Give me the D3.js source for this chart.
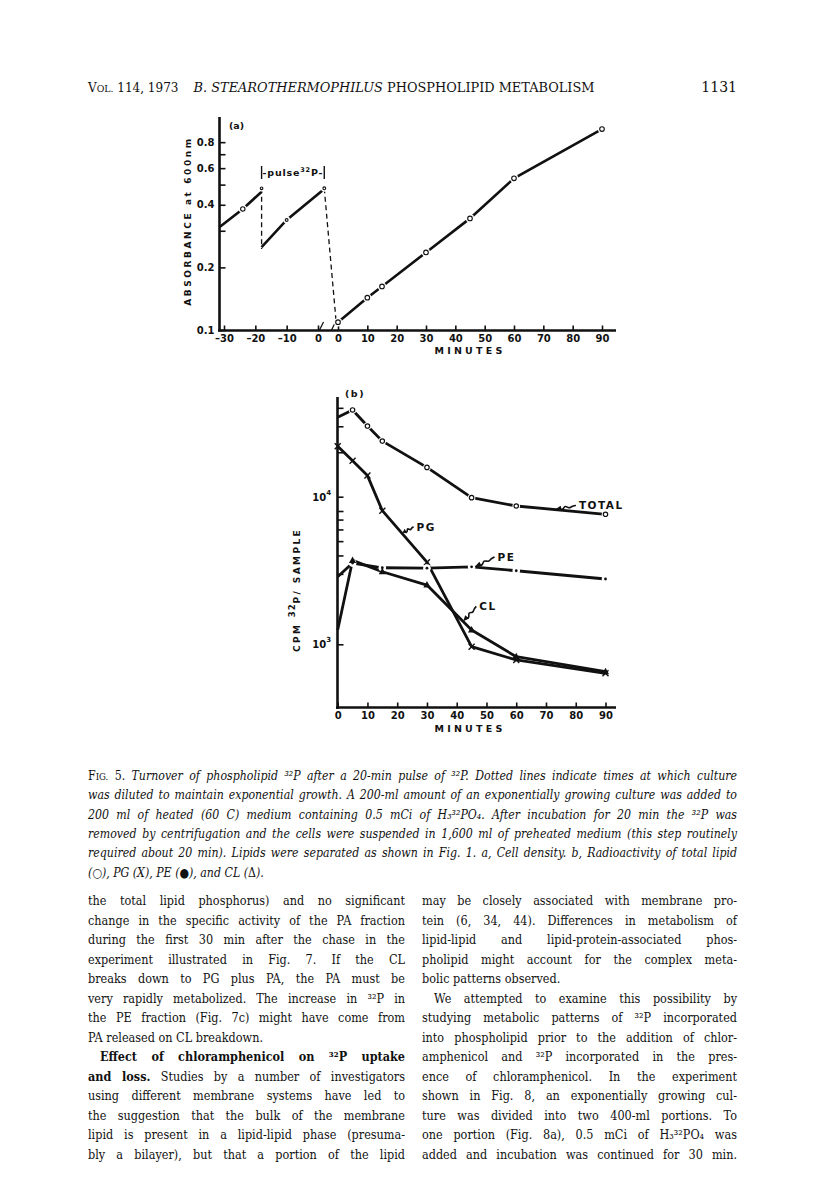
<!DOCTYPE html>
<html>
<head>
<meta charset="utf-8">
<script src="https://cdn.jsdelivr.net/npm/d3@7"></script>
<style>
  body { margin: 0; background: #fff; }
  svg { display: block; }
  .lab { font-family: "DejaVu Sans", sans-serif; font-weight: bold; fill: #111; }
</style>
</head>
<body>
<script>
// ---- panel (a): absorbance at 600 nm (two pre-chase segments + chase)
const preTimes1 = [-31.5, -24, -18];
const preAbs1 = [0.312, 0.382, 0.462];
const preTimes2 = [-18, -10, 2];
const preAbs2 = [0.250, 0.338, 0.476];
const postTimes = [0, 10, 15, 30, 45, 60, 90];
const postAbs = [0.109, 0.143, 0.162, 0.236, 0.344, 0.536, 0.925];
// dotted dilution lines
const dilution1 = [0.48, 0.245];       // at t = -18
const dilution2 = [0.48, 0.108];       // from pre t=2 to chase t=0
const absTicks = [0.1, 0.2, 0.3, 0.4, 0.5, 0.6, 0.7, 0.8];
const absLabels = [0.1, 0.2, 0.4, 0.6, 0.8];
const preTicks = [-30, -20, -10, 0];
const postTicks = [0, 10, 20, 30, 40, 50, 60, 70, 80, 90];

// ---- panel (b): CPM 32P / sample
const timesB = [0, 5, 10, 15, 30, 45, 60, 90];
const totalCpm = [34500, 38700, 30100, 23800, 15800, 9850, 8650, 7600];
const pgCpm = [22000, 17500, 13900, 8040, 3600, 964, 783, 636];
const peTimes = [0, 5, 15, 30, 45, 60, 90];
const peCpm = [2870, 3550, 3300, 3280, 3350, 3150, 2770];
const clTimes = [0, 5, 15, 30, 45, 60, 90];
const clCpm = [1250, 3700, 3100, 2520, 1250, 824, 652];
const cpmTicks = [1e3, 3e3, 4e3, 5e3, 6e3, 7e3, 8e3, 1e4, 2e4, 3e4, 4e4];
const minTicksB = [0, 10, 20, 30, 40, 50, 60, 70, 80, 90];
const seriesLabels = [
  { name: 'TOTAL', t: 73, v: 8200, dx: 24, dy: -4 },
  { name: 'PG', t: 21.8, v: 5700, dx: 14, dy: -6 },
  { name: 'PE', t: 46, v: 3340, dx: 23, dy: -10 },
  { name: 'CL', t: 42.2, v: 1430, dx: 16, dy: -15 }
];

const W = 816, H = 1198;
const svg = d3.select('body').append('svg')
  .attr('width', W)
  .attr('height', H);
svg.append('rect').attr('width', W).attr('height', H).attr('fill', '#fff');

const ink = '#111';
const zip = (ts, vs) => ts.map((t, i) => ({ t, v: vs[i] }));

// small wavy arrow used for the series labels
const wave = d3.line().curve(d3.curveBasis);
function squiggle(g, x0, y0, x1, y1) {
  const len = Math.hypot(x1 - x0, y1 - y0);
  const ux = (x1 - x0) / len, uy = (y1 - y0) / len;
  const nx = -uy, ny = ux;
  const p = (f, a) => [x0 + ux * f * len + nx * a, y0 + uy * f * len + ny * a];
  g.append('path')
    .attr('d', wave([p(0.2, 0), p(0.35, 2.5), p(0.5, -2.5), p(0.65, 2), p(0.8, 0), p(1, 0)]))
    .attr('fill', 'none').attr('stroke', ink).attr('stroke-width', 1.6);
  g.append('path')
    .attr('d', `M${x0},${y0}L${p(0.3, 2.6)}L${p(0.3, -2.6)}Z`)
    .attr('fill', ink);
}

// ================= panel (a) =================
const ya = d3.scaleLog().domain([0.1, 1]).range([330, 122]);
const xPre = d3.scaleLinear().domain([-30, 0]).range([224, 318]);
const xPost = d3.scaleLinear().domain([0, 90]).range([338, 602]);
const gA = svg.append('g');

gA.append('g')
  .attr('transform', 'translate(219.5,0)')
  .call(d3.axisLeft(ya).tickValues(absTicks).tickSize(-6).tickPadding(5)
    .tickFormat(d => absLabels.includes(d) ? d3.format('.1f')(d) : ''))
  .call(g => g.select('.domain').remove())
  .call(g => g.selectAll('line').attr('stroke', ink).attr('stroke-width', 1.6))
  .call(g => g.selectAll('text').attr('class', 'lab').attr('font-size', 7.8));

const dashFmt = d => d < 0 ? '\u2013' + Math.abs(d) : String(d);
gA.append('g')
  .attr('transform', 'translate(0,330.5)')
  .call(d3.axisBottom(xPre).tickValues(preTicks).tickSize(-5).tickPadding(4).tickFormat(dashFmt))
  .call(g => g.select('.domain').remove());
gA.append('g')
  .attr('transform', 'translate(0,330.5)')
  .call(d3.axisBottom(xPost).tickValues(postTicks).tickSize(-5).tickPadding(4))
  .call(g => g.select('.domain').remove());
gA.selectAll('.tick line').attr('stroke', ink).attr('stroke-width', 1.6);
gA.selectAll('.tick text').attr('class', 'lab').attr('font-size', 10);

// axis lines
gA.append('line').attr('x1', 219.5).attr('x2', 219.5).attr('y1', 331.5).attr('y2', 117)
  .attr('stroke', ink).attr('stroke-width', 2.6);
gA.append('line').attr('x1', 218).attr('x2', 616).attr('y1', 330.5).attr('y2', 330.5)
  .attr('stroke', ink).attr('stroke-width', 2.6);
// axis break marks
[xPre(0) + 3, xPost(0) - 5].forEach(x => {
  gA.append('line').attr('x1', x - 2).attr('y1', 331).attr('x2', x + 2.5).attr('y2', 322)
    .attr('stroke', ink).attr('stroke-width', 1.3);
});

const lineA = x => d3.line().x(d => x(d.t)).y(d => ya(d.v));
const segs = [
  { x: xPre, data: zip(preTimes1, preAbs1) },
  { x: xPre, data: zip(preTimes2, preAbs2) },
  { x: xPost, data: zip(postTimes, postAbs) }
];
segs.forEach(s => {
  gA.append('path').attr('d', lineA(s.x)(s.data))
    .attr('fill', 'none').attr('stroke', ink).attr('stroke-width', 2.6);
});

// dotted dilution lines
gA.append('path')
  .attr('d', d3.line()([[xPre(-18), ya(dilution1[0])], [xPre(-18), ya(dilution1[1])]]))
  .attr('stroke', ink).attr('stroke-width', 1.3).attr('stroke-dasharray', '5,3.5');
gA.append('path')
  .attr('d', d3.line()([[xPre(2), ya(dilution2[0])], [xPost(-0.6), ya(dilution2[1])]]))
  .attr('stroke', ink).attr('stroke-width', 1.3).attr('stroke-dasharray', '5,3.5');

// markers (white halo breaks the line, then an open circle)
const ptsA = [
  { x: xPre(-24), y: ya(0.382), r: 2.2 },
  { x: xPre(-10), y: ya(0.338), r: 1.4 },
  { x: xPre(-18), y: ya(dilution1[0]), r: 1.3 },
  { x: xPre(2), y: ya(dilution2[0]), r: 1.4 }
].concat(zip(postTimes, postAbs).map(d => ({ x: xPost(d.t), y: ya(d.v), r: 2.3 })));
gA.selectAll('circle.halo').data(ptsA).join('circle')
  .attr('cx', d => d.x).attr('cy', d => d.y).attr('r', d => d.r + 2)
  .attr('fill', '#fff');
gA.selectAll('circle.mk').data(ptsA).join('circle')
  .attr('cx', d => d.x).attr('cy', d => d.y).attr('r', d => d.r)
  .attr('fill', '#fff').attr('stroke', ink).attr('stroke-width', 1.1);

// pulse bracket
const bx0 = xPre(-18), bx1 = xPre(2);
[bx0, bx1].forEach(x => gA.append('line').attr('x1', x).attr('x2', x).attr('y1', 166).attr('y2', 179)
  .attr('stroke', ink).attr('stroke-width', 1.4));
const pulse = gA.append('text').attr('class', 'lab').attr('x', (bx0 + bx1) / 2).attr('y', 176)
  .attr('text-anchor', 'middle').attr('font-size', 9.5).attr('letter-spacing', 0.8);
pulse.append('tspan').text('-pulse');
pulse.append('tspan').text('32').attr('font-size', 6.5).attr('dy', -4);
pulse.append('tspan').text('P-').attr('dy', 4);

gA.append('text').attr('class', 'lab').attr('x', 229).attr('y', 129).attr('font-size', 9.5).text('(a)');
gA.append('text').attr('class', 'lab').attr('transform', 'translate(190.5,221) rotate(-90)')
  .attr('text-anchor', 'middle').attr('font-size', 9).attr('letter-spacing', 2.6)
  .text('ABSORBANCE at 600nm');
gA.append('text').attr('class', 'lab').attr('x', 470).attr('y', 354)
  .attr('text-anchor', 'middle').attr('font-size', 9.5).attr('letter-spacing', 3.2).text('MINUTES');

// ================= panel (b) =================
const xb = d3.scaleLinear().domain([0, 90]).range([337.7, 605.5]);
const yb = d3.scaleLog().domain([1e3, 1e4]).range([644.3, 496.7]);
const gB = svg.append('g');

gB.append('g')
  .attr('transform', 'translate(337.5,0)')
  .call(d3.axisLeft(yb).tickValues(cpmTicks).tickSize(-6).tickFormat(''))
  .call(g => g.select('.domain').remove());
gB.append('g')
  .attr('transform', 'translate(0,707.5)')
  .call(d3.axisBottom(xb).tickValues(minTicksB).tickSize(-5).tickPadding(4))
  .call(g => g.select('.domain').remove());
gB.selectAll('.tick line').attr('stroke', ink).attr('stroke-width', 1.6);
gB.selectAll('.tick text').attr('class', 'lab').attr('font-size', 10);

gB.append('line').attr('x1', 337.5).attr('x2', 337.5).attr('y1', 709).attr('y2', 397)
  .attr('stroke', ink).attr('stroke-width', 2.6);
gB.append('line').attr('x1', 336).attr('x2', 616).attr('y1', 707.5).attr('y2', 707.5)
  .attr('stroke', ink).attr('stroke-width', 2.6);

[1e4, 1e3].forEach(v => {
  const t = gB.append('text').attr('class', 'lab').attr('x', 331).attr('y', yb(v) + 4)
    .attr('text-anchor', 'end').attr('font-size', 10);
  t.append('tspan').text('10');
  t.append('tspan').text(String(Math.log10(v))).attr('font-size', 7).attr('dy', -6);
});

const lineB = d3.line().x(d => xb(d.t)).y(d => yb(d.v));
const seriesB = [
  { data: zip(timesB, totalCpm), mark: 'circle' },
  { data: zip(timesB, pgCpm), mark: 'x' },
  { data: zip(peTimes, peCpm), mark: 'dot' },
  { data: zip(clTimes, clCpm), mark: 'tri' }
];
seriesB.forEach(s => {
  gB.append('path').attr('d', lineB(s.data))
    .attr('fill', 'none').attr('stroke', ink).attr('stroke-width', 2.8)
    .attr('stroke-linejoin', 'round');
});
seriesB.forEach(s => {
  const pts = s.data.slice(1);
  if (s.mark === 'circle' || s.mark === 'dot') {
    gB.selectAll(null).data(pts).join('circle')
      .attr('cx', d => xb(d.t)).attr('cy', d => yb(d.v)).attr('r', 3.8).attr('fill', '#fff');
  }
  if (s.mark === 'circle') {
    gB.selectAll(null).data(pts).join('circle')
      .attr('cx', d => xb(d.t)).attr('cy', d => yb(d.v)).attr('r', 2.2)
      .attr('fill', '#fff').attr('stroke', ink).attr('stroke-width', 1.2);
  } else if (s.mark === 'dot') {
    gB.selectAll(null).data(pts).join('circle')
      .attr('cx', d => xb(d.t)).attr('cy', d => yb(d.v)).attr('r', 1.4).attr('fill', ink);
  } else if (s.mark === 'x') {
    gB.selectAll(null).data(s.data).join('path')
      .attr('d', d => { const x = xb(d.t), y = yb(d.v); return `M${x - 3},${y - 3}L${x + 3},${y + 3}M${x - 3},${y + 3}L${x + 3},${y - 3}`; })
      .attr('stroke', ink).attr('stroke-width', 1.4);
  } else {
    gB.selectAll(null).data(pts).join('path')
      .attr('d', d => { const x = xb(d.t), y = yb(d.v); return `M${x},${y - 4}L${x + 3.6},${y + 2.5}L${x - 3.6},${y + 2.5}Z`; })
      .attr('fill', ink);
  }
});

seriesLabels.forEach(l => {
  const x0 = xb(l.t), y0 = yb(l.v);
  squiggle(gB, x0, y0, x0 + l.dx - 3, y0 + l.dy);
  gB.append('text').attr('class', 'lab').attr('x', x0 + l.dx).attr('y', y0 + l.dy + 4)
    .attr('font-size', 10.5).attr('letter-spacing', 1.5).text(l.name);
});

gB.append('text').attr('class', 'lab').attr('x', 345).attr('y', 397).attr('font-size', 9.5)
  .attr('letter-spacing', 1.5).text('(b)');
const yt = gB.append('text').attr('class', 'lab').attr('transform', 'translate(300,590) rotate(-90)')
  .attr('text-anchor', 'middle').attr('font-size', 9).attr('letter-spacing', 2.4);
yt.append('tspan').text('CPM ');
yt.append('tspan').text('32').attr('font-size', 8.5).attr('dy', -5).attr('letter-spacing', 1);
yt.append('tspan').text('P/ SAMPLE').attr('dy', 5);
gB.append('text').attr('class', 'lab').attr('x', 470).attr('y', 732)
  .attr('text-anchor', 'middle').attr('font-size', 9.5).attr('letter-spacing', 3.2).text('MINUTES');

// ================= page text =================
const serif = '"DejaVu Serif", serif';
// one line of type; k squeezes the glyphs horizontally, justify spreads words
function textLine(x, y, width, spans, justify, size, style, k = 1) {
  const g = svg.append('g').attr('transform', `translate(${x},${y}) scale(${k},1)`);
  const t = g.append('text')
    .attr('font-family', serif).attr('font-size', size).attr('fill', ink)
    .attr('font-style', style || 'normal').style('white-space', 'pre');
  spans.forEach(s => {
    const ts = t.append('tspan').text(s.t);
    if (s.b) ts.attr('font-weight', 'bold');
    if (s.n) ts.attr('font-style', 'normal');
    if (s.sc) ts.attr('font-size', size * 0.78);
  });
  if (justify) {
    const len = t.node().getComputedTextLength();
    const n = (spans.map(s => s.t).join('').match(/ /g) || []).length;
    if (n) t.attr('word-spacing', (width / k - len) / n);
  }
  return t;
}

// running head
textLine(88, 92, 0, [{ t: 'V' }, { t: 'OL.', sc: 1 }, { t: ' 114, 1973' }], false, 12);
textLine(394, 92, 0, [{ t: 'B. STEAROTHERMOPHILUS' }, { t: ' PHOSPHOLIPID METABOLISM', n: 1 }], false, 12.9, 'italic')
  .attr('text-anchor', 'middle');
textLine(737, 92, 0, [{ t: '1131' }], false, 14).attr('text-anchor', 'end');

const capLines = [
  [{ t: 'F', n: 1 }, { t: 'IG.', n: 1, sc: 1 }, { t: ' 5. ', n: 1 }, { t: 'Turnover of phospholipid \u00b3\u00b2P after a 20-min pulse of \u00b3\u00b2P. Dotted lines indicate times at which culture' }],
  [{ t: 'was diluted to maintain exponential growth. A 200-ml amount of an exponentially growing culture was added to' }],
  [{ t: '200 ml of heated (60 C) medium containing 0.5 mCi of H\u2083\u00b3\u00b2PO\u2084. After incubation for 20 min the \u00b3\u00b2P was' }],
  [{ t: 'removed by centrifugation and the cells were suspended in 1,600 ml of preheated medium (this step routinely' }],
  [{ t: 'required about 20 min). Lipids were separated as shown in Fig. 1. a, Cell density. b, Radioactivity of total lipid' }],
  [{ t: '(\u25cb), PG (X), PE (' }, { t: '\u25cf', n: 1 }, { t: '), and CL (' }, { t: '\u0394', n: 1 }, { t: ').' }]
];
capLines.forEach((l, i) => textLine(88, 780 + i * 19.3, 649, l, i < capLines.length - 1, 12.5, 'italic', 0.88));

const leftCol = [
  [{ t: 'the total lipid phosphorus) and no significant' }],
  [{ t: 'change in the specific activity of the PA fraction' }],
  [{ t: 'during the first 30 min after the chase in the' }],
  [{ t: 'experiment illustrated in Fig. 7. If the CL' }],
  [{ t: 'breaks down to PG plus PA, the PA must be' }],
  [{ t: 'very rapidly metabolized. The increase in \u00b3\u00b2P in' }],
  [{ t: 'the PE fraction (Fig. 7c) might have come from' }],
  [{ t: 'PA released on CL breakdown.' }],
  [{ t: 'Effect of chloramphenicol on \u00b3\u00b2P uptake', b: 1 }],
  [{ t: 'and loss.', b: 1 }, { t: ' Studies by a number of investigators' }],
  [{ t: 'using different membrane systems have led to' }],
  [{ t: 'the suggestion that the bulk of the membrane' }],
  [{ t: 'lipid is present in a lipid-lipid phase (presuma-' }],
  [{ t: 'bly a bilayer), but that a portion of the lipid' }]
];
const rightCol = [
  [{ t: 'may be closely associated with membrane pro-' }],
  [{ t: 'tein (6, 34, 44). Differences in metabolism of' }],
  [{ t: 'lipid-lipid and lipid-protein-associated phos-' }],
  [{ t: 'pholipid might account for the complex meta-' }],
  [{ t: 'bolic patterns observed.' }],
  [{ t: 'We attempted to examine this possibility by' }],
  [{ t: 'studying metabolic patterns of \u00b3\u00b2P incorporated' }],
  [{ t: 'into phospholipid prior to the addition of chlor-' }],
  [{ t: 'amphenicol and \u00b3\u00b2P incorporated in the pres-' }],
  [{ t: 'ence of chloramphenicol. In the experiment' }],
  [{ t: 'shown in Fig. 8, an exponentially growing cul-' }],
  [{ t: 'ture was divided into two 400-ml portions. To' }],
  [{ t: 'one portion (Fig. 8a), 0.5 mCi of H\u2083\u00b3\u00b2PO\u2084 was' }],
  [{ t: 'added and incubation was continued for 30 min.' }]
];
const leftIndent = [8], leftLast = [7];
const rightIndent = [5], rightLast = [4];
leftCol.forEach((l, i) => {
  const ind = leftIndent.includes(i) ? 12 : 0;
  textLine(88 + ind, 905 + i * 19.5, 317 - ind, l, !leftLast.includes(i), 12.8, 'normal', 0.88);
});
rightCol.forEach((l, i) => {
  const ind = rightIndent.includes(i) ? 12 : 0;
  textLine(422 + ind, 905 + i * 19.5, 315 - ind, l, !rightLast.includes(i), 12.8, 'normal', 0.88);
});
</script>
</body>
</html>
